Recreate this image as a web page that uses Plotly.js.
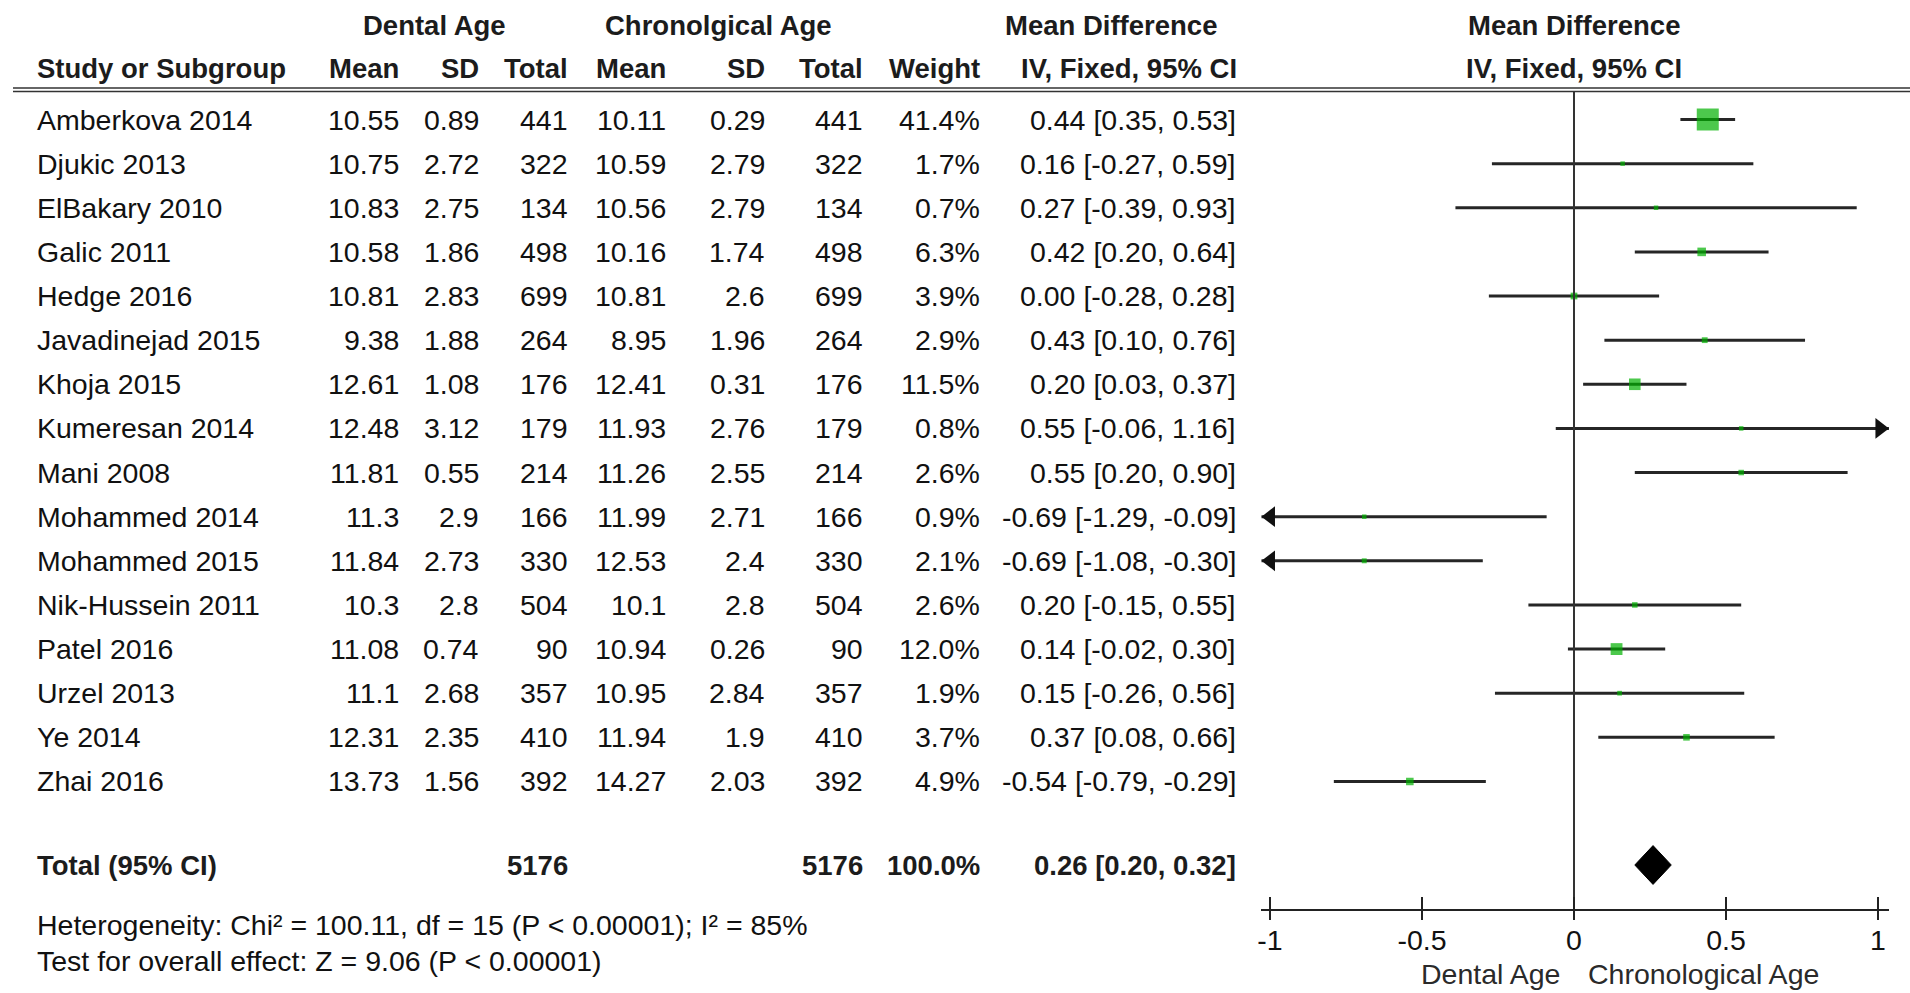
<!DOCTYPE html>
<html>
<head>
<meta charset="utf-8">
<script src="https://cdn.plot.ly/plotly-3.0.1.min.js"></script>
<style>
  html, body { margin: 0; padding: 0; background: #ffffff; }
  #chart { width: 1910px; height: 993px; }
</style>
</head>
<body>
<div id="chart"></div>
<script>
// ---------------- data ----------------
const studies = ["Amberkova 2014","Djukic 2013","ElBakary 2010","Galic 2011","Hedge 2016","Javadinejad 2015","Khoja 2015","Kumeresan 2014","Mani 2008","Mohammed 2014","Mohammed 2015","Nik-Hussein 2011","Patel 2016","Urzel 2013","Ye 2014","Zhai 2016"];
const dentalMean = [10.55,10.75,10.83,10.58,10.81,9.38,12.61,12.48,11.81,11.3,11.84,10.3,11.08,11.1,12.31,13.73];
const dentalSD = [0.89,2.72,2.75,1.86,2.83,1.88,1.08,3.12,0.55,2.9,2.73,2.8,0.74,2.68,2.35,1.56];
const dentalTotal = [441,322,134,498,699,264,176,179,214,166,330,504,90,357,410,392];
const chronoMean = [10.11,10.59,10.56,10.16,10.81,8.95,12.41,11.93,11.26,11.99,12.53,10.1,10.94,10.95,11.94,14.27];
const chronoSD = [0.29,2.79,2.79,1.74,2.6,1.96,0.31,2.76,2.55,2.71,2.4,2.8,0.26,2.84,1.9,2.03];
const chronoTotal = [441,322,134,498,699,264,176,179,214,166,330,504,90,357,410,392];
const weights = [41.4,1.7,0.7,6.3,3.9,2.9,11.5,0.8,2.6,0.9,2.1,2.6,12.0,1.9,3.7,4.9];
const meanDiff = [0.44,0.16,0.27,0.42,0.00,0.43,0.20,0.55,0.55,-0.69,-0.69,0.20,0.14,0.15,0.37,-0.54];
const ciLow = [0.35,-0.27,-0.39,0.20,-0.28,0.10,0.03,-0.06,0.20,-1.29,-1.08,-0.15,-0.02,-0.26,0.08,-0.79];
const ciHigh = [0.53,0.59,0.93,0.64,0.28,0.76,0.37,1.16,0.90,-0.09,-0.30,0.55,0.30,0.56,0.66,-0.29];

const totalDental = 5176;
const totalChrono = 5176;
const totalWeight = 100.0;
const totalMD = 0.26;
const totalLow = 0.20;
const totalHigh = 0.32;

const heterogeneityText = "Heterogeneity: Chi² = 100.11, df = 15 (P < 0.00001); I² = 85%";
const overallText = "Test for overall effect: Z = 9.06 (P < 0.00001)";

const tickValues = [-1, -0.5, 0, 0.5, 1];
const tickLabels = ["-1", "-0.5", "0", "0.5", "1"];
const favoursLeft = "Dental Age";
const favoursRight = "Chronological Age";

// ---------------- layout constants (pixels) ----------------
const W = 1910, H = 993;
const FONT = "'Liberation Sans', Arial, sans-serif";
const FS = 28.5;
const FSB = 27.5;
const TXT = "#111111";
const HDR = "#1c1c1c";

const row0 = 119.5, rowStep = 44.13;
const axisPy = 908.7;
const yTop = (0 - row0) / rowStep;
const yBot = (axisPy - row0) / rowStep;
const totalRowY = (865 - row0) / rowStep;

const xMin = -1.028, xMax = 1.036;
const unitPx = 304, zeroPx = 1574;
const xDomain = [(zeroPx + xMin * unitPx) / W, (zeroPx + xMax * unitPx) / W];

const px = v => v / W;
const py = v => 1 - v / H;

// ---------------- traces ----------------
const n = studies.length;
const rowsY = studies.map((_, i) => i);

const ciX = [], ciY = [];
for (let i = 0; i < n; i++) {
  ciX.push(ciLow[i], ciHigh[i], null);
  ciY.push(i, i, null);
}
const ciTrace = {
  type: "scatter", mode: "lines", x: ciX, y: ciY,
  line: { color: "#262626", width: 3 }, hoverinfo: "skip", connectgaps: false
};

const maxW = Math.max(...weights);
const squareTrace = {
  type: "scatter", mode: "markers", x: meanDiff, y: rowsY,
  marker: {
    symbol: "square", color: "#00b000",
    size: weights.map(w => Math.max(4.5, 22 * Math.sqrt(w / maxW))),
    line: { width: 0 }
  },
  hoverinfo: "skip"
};

// arrow heads where the CI runs past the drawn axis range
const ARROW = 18;                         // marker size (px)
const tipOff = (ARROW / 2) / unitPx;      // tip lies r px from triangle centre
const arrX = [], arrY = [], arrSym = [];
for (let i = 0; i < n; i++) {
  if (ciLow[i] < xMin) { arrX.push(xMin + tipOff); arrY.push(i); arrSym.push("triangle-left"); }
  if (ciHigh[i] > xMax) { arrX.push(xMax - tipOff); arrY.push(i); arrSym.push("triangle-right"); }
}
const arrowTrace = {
  type: "scatter", mode: "markers", x: arrX, y: arrY, cliponaxis: false,
  marker: { symbol: arrSym, size: ARROW, color: "#111", line: { width: 0 } },
  hoverinfo: "skip"
};

const dH = 0.44;
const diamondTrace = {
  type: "scatter", mode: "lines",
  x: [totalLow, totalMD, totalHigh, totalMD, totalLow],
  y: [totalRowY, totalRowY - dH, totalRowY, totalRowY + dH, totalRowY],
  fill: "toself", fillcolor: "#000000", line: { color: "#000000", width: 1 },
  hoverinfo: "skip"
};

// ---------------- annotations ----------------
const ann = [];
function txt(text, xPix, y, anchor, opts = {}) {
  ann.push({
    text: text, x: px(xPix), xref: "paper", xanchor: anchor,
    y: y, yref: opts.yref || "y", yanchor: "middle",
    showarrow: false, borderpad: 0,
    font: { family: FONT, size: opts.bold ? FSB : FS, color: opts.color || TXT, weight: opts.bold ? "bold" : "normal" }
  });
}
const h1 = py(26), h2 = py(68.5);
const HD = { yref: "paper", bold: true, color: HDR };
txt("Dental Age", 434, h1, "center", HD);
txt("Chronolgical Age", 718.5, h1, "center", HD);
txt("Mean Difference", 1111, h1, "center", HD);
txt("Mean Difference", 1574, h1, "center", HD);
txt("Study or Subgroup", 36, h2, "left", HD);
txt("Mean", 400, h2, "right", HD);
txt("SD", 480, h2, "right", HD);
txt("Total", 569, h2, "right", HD);
txt("Mean", 667, h2, "right", HD);
txt("SD", 766, h2, "right", HD);
txt("Total", 864, h2, "right", HD);
txt("Weight", 981, h2, "right", HD);
txt("IV, Fixed, 95% CI", 1238, h2, "right", HD);
txt("IV, Fixed, 95% CI", 1574, h2, "center", HD);

for (let i = 0; i < n; i++) {
  txt(studies[i], 36, i, "left");
  txt(String(dentalMean[i]), 400, i, "right");
  txt(String(dentalSD[i]), 480, i, "right");
  txt(String(dentalTotal[i]), 569, i, "right");
  txt(String(chronoMean[i]), 667, i, "right");
  txt(String(chronoSD[i]), 766, i, "right");
  txt(String(chronoTotal[i]), 864, i, "right");
  txt(weights[i].toFixed(1) + "%", 981, i, "right");
  txt(meanDiff[i].toFixed(2) + " [" + ciLow[i].toFixed(2) + ", " + ciHigh[i].toFixed(2) + "]", 1237, i, "right");
}
const BD = { bold: true, color: HDR };
txt("Total (95% CI)", 36, totalRowY, "left", BD);
txt(String(totalDental), 569, totalRowY, "right", BD);
txt(String(totalChrono), 864, totalRowY, "right", BD);
txt(totalWeight.toFixed(1) + "%", 981, totalRowY, "right", BD);
txt(totalMD.toFixed(2) + " [" + totalLow.toFixed(2) + ", " + totalHigh.toFixed(2) + "]", 1237, totalRowY, "right", BD);

txt(heterogeneityText, 36, py(925), "left", { yref: "paper" });
txt(overallText, 36, py(961), "left", { yref: "paper" });
txt(favoursLeft, 1561, py(974), "right", { yref: "paper", color: "#2a2a2a" });
txt(favoursRight, 1587, py(974), "left", { yref: "paper", color: "#2a2a2a" });

// ---------------- shapes ----------------
const shapes = [
  { type: "line", xref: "paper", yref: "paper", x0: px(13), x1: 1, y0: py(88), y1: py(88), line: { color: "#333", width: 1.6 } },
  { type: "line", xref: "paper", yref: "paper", x0: px(13), x1: 1, y0: py(91.5), y1: py(91.5), line: { color: "#333", width: 1.6 } },
  { type: "line", xref: "x", yref: "paper", x0: 0, x1: 0, y0: py(92), y1: py(axisPy), line: { color: "#333", width: 2 } }
];
tickValues.forEach(v => shapes.push({
  type: "line", xref: "x", yref: "paper", x0: v, x1: v, y0: py(920), y1: py(897),
  line: { color: "#222", width: 2 }
}));

const layout = {
  width: W, height: H,
  margin: { l: 0, r: 0, t: 0, b: 0, pad: 0 },
  paper_bgcolor: "#ffffff", plot_bgcolor: "#ffffff",
  showlegend: false,
  xaxis: {
    domain: xDomain, range: [xMin, xMax],
    showgrid: false, zeroline: false,
    showline: true, linecolor: "#222", linewidth: 2.5,
    ticks: "", ticklabelstandoff: 5,
    tickmode: "array", tickvals: tickValues, ticktext: tickLabels,
    tickfont: { family: FONT, size: FS, color: TXT },
    fixedrange: true
  },
  yaxis: {
    domain: [1 - axisPy / H, 1], range: [yBot, yTop],
    visible: false, showgrid: false, zeroline: false, fixedrange: true
  },
  shapes: shapes,
  annotations: ann
};

Plotly.newPlot("chart", [ciTrace, diamondTrace, squareTrace, arrowTrace], layout, { staticPlot: true, displayModeBar: false });
</script>
</body>
</html>
